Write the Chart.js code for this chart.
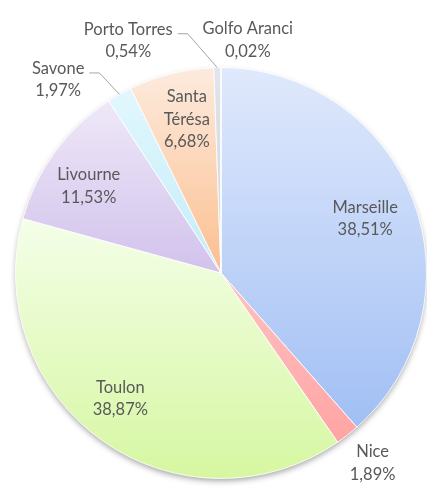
<!DOCTYPE html>
<html>
<head>
<meta charset="utf-8">
<script src="https://cdn.jsdelivr.net/npm/chart.js@4/dist/chart.umd.min.js"></script>
<style>
  html, body { margin: 0; padding: 0; background: #ffffff; }
  canvas { display: block; }
</style>
</head>
<body>
<canvas id="c" width="427" height="493"></canvas>
<script>
// ---- data ----
const categories = ['Marseille', 'Nice', 'Toulon', 'Livourne', 'Savone', 'Santa Térésa', 'Porto Torres', 'Golfo Aranci'];
const shareValues = [38.51, 1.89, 38.87, 11.53, 1.97, 6.68, 0.54, 0.02];
const labelLines = [['Marseille'], ['Nice'], ['Toulon'], ['Livourne'], ['Savone'], ['Santa', 'Térésa'], ['Porto Torres'], ['Golfo Aranci']];

// ---- styles ----
const topColors    = ['#e0e9fc', '#ffc2c2', '#f4fee8', '#efe8f8', '#e2f7fd', '#fdebde', '#e2e5eb', '#dadada'];
const bottomColors = ['#a1bff4', '#ffa4a4', '#d6f7a1', '#d1c2ec', '#c3edfb', '#fbbf90', '#cdd2da', '#cfcfcf'];
const labelPlacement = [
  { r: 0.75,  da: 0 },
  { r: 1.183, da: -0.6 },
  { r: 0.784, da: 3.3 },
  { r: 0.77,  da: -2.8 },
  { r: 1.23,  da: -10.5, leader: true },
  { r: 0.766, da: 1.5 },
  { r: 1.218, da: -20.7, leader: true },
  { r: 1.141, da: 6.6 }
];
const FONT = '16.5px Lato, "Open Sans", sans-serif';
const LINE_H = 22.5;

function fmtPct(v) { return v.toFixed(2).replace('.', ',') + '%'; }

function sliceGradient(context) {
  const chart = context.chart;
  const i = context.dataIndex;
  const area = chart.chartArea;
  if (!area) return topColors[i];
  const data = context.dataset.data;
  const total = data.reduce((a, b) => a + b, 0);
  let cum = 0;
  for (let k = 0; k < i; k++) cum += data[k];
  const a0 = -Math.PI / 2 + cum / total * 2 * Math.PI;
  const a1 = a0 + data[i] / total * 2 * Math.PI;
  const cx = (area.left + area.right) / 2, cy = (area.top + area.bottom) / 2;
  const R = Math.min(area.right - area.left, area.bottom - area.top) / 2;
  let ys = [cy, cy + R * Math.sin(a0), cy + R * Math.sin(a1)];
  const within = (ang) => {
    let a = ang;
    while (a < a0) a += 2 * Math.PI;
    return a <= a1;
  };
  if (within(Math.PI / 2)) ys.push(cy + R);
  if (within(-Math.PI / 2)) ys.push(cy - R);
  const yTop = Math.min(...ys), yBot = Math.max(...ys);
  const g = chart.ctx.createLinearGradient(0, yTop, 0, yBot + 0.01);
  g.addColorStop(0, topColors[i]);
  g.addColorStop(1, bottomColors[i]);
  return g;
}

const shadowPlugin = {
  id: 'pieShadow',
  beforeDatasetsDraw(chart) {
    const meta = chart.getDatasetMeta(0);
    const arc = meta.data[0];
    if (!arc) return;
    const ctx = chart.ctx;
    ctx.save();
    ctx.shadowColor = 'rgba(0,0,0,0.40)';
    ctx.shadowBlur = 6;
    ctx.shadowOffsetY = 3;
    ctx.shadowOffsetX = 0;
    ctx.fillStyle = '#ffffff';
    ctx.beginPath();
    ctx.arc(arc.x, arc.y, arc.outerRadius - 1, 0, Math.PI * 2);
    ctx.fill();
    ctx.restore();
  }
};

const labelPlugin = {
  id: 'sliceLabels',
  afterDatasetsDraw(chart) {
    const ctx = chart.ctx;
    const meta = chart.getDatasetMeta(0);
    const data = chart.data.datasets[0].data;
    ctx.save();
    ctx.font = FONT;
    ctx.fillStyle = '#595959';
    ctx.textAlign = 'center';
    ctx.textBaseline = 'middle';
    meta.data.forEach((arc, i) => {
      const p = labelPlacement[i];
      const mid = (arc.startAngle + arc.endAngle) / 2;
      const ang = mid + p.da * Math.PI / 180;
      const R = arc.outerRadius;
      const lx = arc.x + Math.cos(ang) * R * p.r;
      const ly = arc.y + Math.sin(ang) * R * p.r;
      const lines = labelLines[i].concat([fmtPct(data[i])]);
      const y0 = ly - (lines.length - 1) / 2 * LINE_H;
      lines.forEach((t, k) => ctx.fillText(t, lx, y0 + k * LINE_H));
      if (p.leader) {
        const w = ctx.measureText(lines[0]).width;
        const x1 = lx + w / 2 + 5;
        const x2 = x1 + 10;
        const yl = y0 + 4.5;
        const ax = arc.x + Math.cos(mid) * R;
        const ay = arc.y + Math.sin(mid) * R;
        ctx.save();
        ctx.strokeStyle = '#a6a6a6';
        ctx.lineWidth = 1;
        ctx.beginPath();
        ctx.moveTo(x1, yl);
        ctx.lineTo(x2, yl);
        ctx.lineTo(ax, ay);
        ctx.stroke();
        ctx.restore();
      }
    });
    ctx.restore();
  }
};

new Chart(document.getElementById('c'), {
  type: 'pie',
  data: {
    labels: categories,
    datasets: [{
      data: shareValues,
      backgroundColor: sliceGradient,
      borderColor: 'rgba(255,255,255,0.85)',
      borderWidth: 1
    }]
  },
  options: {
    responsive: false,
    animation: false,
    layout: { padding: { left: 15, right: 0, top: 67, bottom: 14 } },
    plugins: {
      legend: { display: false },
      tooltip: { enabled: false },
      title: { display: false }
    }
  },
  plugins: [shadowPlugin, labelPlugin]
});
</script>
</body>
</html>
